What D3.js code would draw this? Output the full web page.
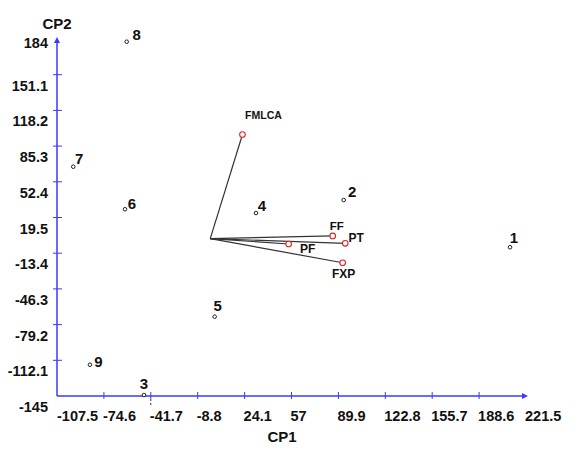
<!DOCTYPE html>
<html><head><meta charset="utf-8">
<script src="https://cdn.jsdelivr.net/npm/d3@7"></script>
<style>body{margin:0;background:#fff}svg{display:block}text{font-family:"Liberation Sans",Arial,sans-serif;font-weight:bold;fill:#111}</style>
</head><body>
<svg id="c" width="585" height="452"></svg>
<script>
const xTicks = [-107.5, -74.6, -41.7, -8.8, 24.1, 57, 89.9, 122.8, 155.7, 188.6, 221.5];
const yTicks = [-145, -112.1, -79.2, -46.3, -13.4, 19.5, 52.4, 85.3, 118.2, 151.1, 184];
const pointNames = ["1","2","3","4","5","6","7","8","9"];
const pointX = [210.3, 93.6, -46.5, 32.1, 3.1, -59.8, -96.1, -58.6, -84.4];
const pointY = [-7.9, 35.6, -144.1, 23.6, -71.9, 27.1, 66.3, 181.5, -116.2];
const varNames = ["FMLCA","FF","PT","PF","FXP"];
const varX = [22.6, 85.9, 94.7, 55.0, 92.9];
const varY = [96.0, 2.5, -4.3, -4.9, -22.2];

const svg = d3.select("#c");
const x = d3.scaleLinear().domain([-107.5, 221.5]).range([57, 526]);
const y = d3.scaleLinear().domain([-145, 184]).range([396, 39]);
const axisColor = "#3a3aff";

// axes lines
svg.append("line").attr("x1", x(-107.5)).attr("x2", x(221.5)).attr("y1", y(-145)).attr("y2", y(-145))
  .attr("stroke", axisColor).attr("stroke-width", 1.5);
svg.append("line").attr("x1", x(-107.5)).attr("x2", x(-107.5)).attr("y1", y(-145)).attr("y2", y(184))
  .attr("stroke", axisColor).attr("stroke-width", 1.5);
// arrows
svg.append("path").attr("d", `M${x(221.5)+2},${y(-145)} l-6,-3 l0,6 z`).attr("fill", axisColor);
svg.append("path").attr("d", `M${x(-107.5)},${y(184)-2} l-3,6 l6,0 z`).attr("fill", axisColor);

// x ticks
const xt = svg.append("g");
xTicks.slice(1, -1).forEach(v => {
  xt.append("line").attr("x1", x(v)).attr("x2", x(v)).attr("y1", y(-145)-4).attr("y2", y(-145)+3)
    .attr("stroke", axisColor).attr("stroke-width", 1);
});
// small dashed mark under the -41.7 tick
xt.append("line").attr("x1", x(-41.7)).attr("x2", x(-41.7)).attr("y1", y(-145)+3).attr("y2", y(-145)+9)
  .attr("stroke", "#333").attr("stroke-width", 1).attr("stroke-dasharray", "2,2");
xTicks.forEach(v => {
  xt.append("text").attr("x", x(v) + (v === -107.5 ? 0 : -1)).attr("y", y(-145) + 25)
    .attr("font-size", 14.5).attr("text-anchor", "start").text(v);
});
// y ticks
const yt = svg.append("g");
yTicks.slice(1, -1).forEach(v => {
  yt.append("line").attr("x1", x(-107.5)-4).attr("x2", x(-107.5)+5).attr("y1", y(v)).attr("y2", y(v))
    .attr("stroke", axisColor).attr("stroke-width", 1);
});
yTicks.forEach((v, i) => {
  const off = i === yTicks.length - 1 ? 9 : 16;
  yt.append("text").attr("x", 48).attr("y", y(v) + off)
    .attr("font-size", 14.5).attr("text-anchor", "end").text(v);
});
svg.append("text").attr("x", 282).attr("y", 442).attr("font-size", 15).attr("text-anchor", "middle").text("CP1");
svg.append("text").attr("x", 57).attr("y", 29).attr("font-size", 15).attr("text-anchor", "middle").text("CP2");

// vectors
const vg = svg.append("g");
varNames.forEach((n, i) => {
  vg.append("line").attr("x1", x(0)).attr("y1", y(0)).attr("x2", x(varX[i])).attr("y2", y(varY[i]))
    .attr("stroke", "#333").attr("stroke-width", 1.2);
});
varNames.forEach((n, i) => {
  vg.append("circle").attr("cx", x(varX[i])).attr("cy", y(varY[i])).attr("r", 2.8)
    .attr("fill", "#fff").attr("stroke", "#e02020").attr("stroke-width", 1.1);
});
const varLab = {FMLCA:[21,-19,10.5], FF:[4,-10,11.5], PT:[11,-6,12], PF:[19,5,12], FXP:[1,11,12]};
varNames.forEach((n, i) => {
  const o = varLab[n];
  vg.append("text").attr("x", x(varX[i]) + o[0]).attr("y", y(varY[i]) + o[1] + o[2] * 0.36)
    .attr("font-size", o[2]).attr("text-anchor", "middle").text(n);
});

// points
const ptLab = {"1":[4,-10],"2":[8.5,-8],"3":[0,-11],"4":[6,-7],"5":[3,-11],"6":[7,-6],"7":[6,-8],"8":[10,-7],"9":[8.5,-3]};
const pg = svg.append("g");
pointNames.forEach((n, i) => {
  pg.append("circle").attr("cx", x(pointX[i])).attr("cy", y(pointY[i])).attr("r", 1.8)
    .attr("fill", "#fff").attr("stroke", "#222").attr("stroke-width", 1);
  const o = ptLab[n];
  pg.append("text").attr("x", x(pointX[i]) + o[0]).attr("y", y(pointY[i]) + o[1] + 5.4)
    .attr("font-size", 15).attr("text-anchor", "middle").text(n);
});
</script>
</body></html>
